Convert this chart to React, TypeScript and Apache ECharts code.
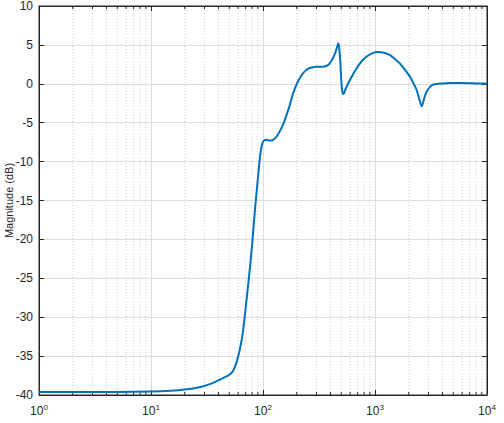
import React, { useEffect, useRef } from "react";
import * as echarts from "echarts";

const freq = [1, 5, 10, 15, 20, 27, 35, 43, 50, 54, 58, 62, 66, 71, 76, 80, 85, 91, 95, 98, 102, 108, 115, 122, 132, 145, 157, 172, 186, 205, 229, 250, 272, 300, 346, 380, 410, 440, 460, 471, 480, 490, 504, 515, 525, 545, 578, 630, 686, 760, 843, 950, 1071, 1200, 1361, 1500, 1672, 1850, 2054, 2200, 2355, 2500, 2611, 2700, 2800, 2893, 3100, 3318, 4000, 4676, 6000, 8000, 10000];
const magDb = [-39.6, -39.6, -39.55, -39.45, -39.3, -39.0, -38.5, -37.9, -37.4, -36.9, -35.8, -34.2, -32.0, -28.0, -24.0, -20.6, -16.0, -11.4, -8.9, -7.8, -7.3, -7.2, -7.3, -7.25, -6.8, -5.8, -4.6, -2.9, -1.2, 0.3, 1.4, 1.9, 2.1, 2.2, 2.2, 2.4, 3.0, 3.9, 4.8, 5.2, 4.5, 2.8, -0.3, -1.2, -1.3, -0.7, 0.1, 1.1, 2.0, 2.9, 3.5, 3.95, 4.1, 4.0, 3.7, 3.2, 2.6, 1.8, 0.9, 0.1, -0.8, -2.1, -2.9, -2.3, -1.5, -1.0, -0.4, -0.1, 0.05, 0.1, 0.1, 0.05, 0.0];
const minorFreq = [2, 3, 4, 5, 6, 7, 8, 9, 20, 30, 40, 50, 60, 70, 80, 90, 200, 300, 400, 500, 600, 700, 800, 900, 2000, 3000, 4000, 5000, 6000, 7000, 8000, 9000];
const yMin = -40;
const yMax = 10;
const yStep = 5;
const yLabel = "Magnitude (dB)";

const FONT = "Liberation Sans, Arial, Helvetica, sans-serif";
const AXIS = "#262626";

export default function App() {
  const ref = useRef<HTMLDivElement>(null);
  useEffect(() => {
    if (!ref.current) return;
    const chart = echarts.init(ref.current, undefined, { renderer: "svg" });
    const lineData = freq.map((f, i) => [f, magDb[i]]);
    const xCommon = {
      type: "log",
      logBase: 10,
      min: 1,
      max: 10000,
      splitNumber: 4,
    };
    chart.setOption({
      animation: false,
      textStyle: { fontFamily: FONT },
      grid: {
        left: 39,
        right: 17,
        top: 6,
        bottom: 28,
        outerBoundsMode: "none",
        containLabel: false,
        show: true,
        borderColor: AXIS,
        borderWidth: 1,
        backgroundColor: "#ffffff",
      },
      xAxis: [
        {
          ...xCommon,
          position: "bottom",
          axisLine: { show: true, onZero: false, lineStyle: { color: AXIS, width: 1 } },
          axisTick: { show: true, inside: true, length: 5, lineStyle: { color: AXIS } },
          splitLine: { show: true, lineStyle: { color: "#dedede", width: 1 } },
          axisLabel: {
            color: AXIS,
            margin: 8,
            formatter: (v: number) => `{b|10}{s|${Math.round(Math.log10(v))}}`,
            rich: {
              b: { fontSize: 12, fontFamily: FONT, color: AXIS },
              s: { fontSize: 8, fontFamily: FONT, color: AXIS, padding: [0, 0, 8, 0] },
            },
          },
        },
        {
          ...xCommon,
          position: "top",
          axisLine: { show: true, onZero: false, lineStyle: { color: AXIS, width: 1 } },
          axisTick: { show: true, inside: true, length: 5, lineStyle: { color: AXIS } },
          splitLine: { show: false },
          axisLabel: { show: false },
        },
      ],
      yAxis: [
        {
          type: "value",
          min: yMin,
          max: yMax,
          interval: yStep,
          position: "left",
          name: yLabel,
          nameLocation: "middle",
          nameGap: 25,
          nameMoveOverlap: false,
          nameTextStyle: { fontSize: 11, color: AXIS, fontFamily: FONT },
          axisLine: { show: true, onZero: false, lineStyle: { color: AXIS, width: 1 } },
          axisTick: { show: true, inside: true, length: 5, lineStyle: { color: AXIS } },
          splitLine: { show: true, lineStyle: { color: "#dedede", width: 1 } },
          axisLabel: { color: AXIS, fontSize: 12, margin: 6, fontFamily: FONT },
        },
        {
          type: "value",
          min: yMin,
          max: yMax,
          interval: yStep,
          position: "right",
          axisLine: { show: true, onZero: false, lineStyle: { color: AXIS, width: 1 } },
          axisTick: { show: true, inside: true, length: 5, lineStyle: { color: AXIS } },
          splitLine: { show: false },
          axisLabel: { show: false },
        },
      ],
      series: [
        {
          type: "custom",
          xAxisIndex: 0,
          yAxisIndex: 0,
          z: 1,
          silent: true,
          encode: { x: 0, y: 1 },
          data: minorFreq.map((f) => [f, yMin]),
          renderItem: (params: any, api: any) => {
            const v = api.value(0);
            const p0 = api.coord([v, yMin]);
            const p1 = api.coord([v, yMax]);
            return {
              type: "group",
              children: [
                {
                  type: "line",
                  shape: { x1: p0[0], y1: p0[1], x2: p1[0], y2: p1[1] },
                  style: { stroke: "#cfcfcf", lineWidth: 1, lineDash: [1, 2] },
                },
                {
                  type: "line",
                  shape: { x1: p0[0], y1: p0[1], x2: p0[0], y2: p0[1] - 3 },
                  style: { stroke: AXIS, lineWidth: 1 },
                },
                {
                  type: "line",
                  shape: { x1: p1[0], y1: p1[1], x2: p1[0], y2: p1[1] + 3 },
                  style: { stroke: AXIS, lineWidth: 1 },
                },
              ],
            };
          },
        },
        {
          type: "line",
          xAxisIndex: 0,
          yAxisIndex: 0,
          z: 3,
          data: lineData,
          showSymbol: false,
          smooth: 0.3,
          lineStyle: { color: "#0072BD", width: 2 },
        },
      ],
    });
    return () => chart.dispose();
  }, []);
  return <div ref={ref} style={{ width: 504, height: 423, position: "absolute", left: 0, top: 0 }} />;
}
